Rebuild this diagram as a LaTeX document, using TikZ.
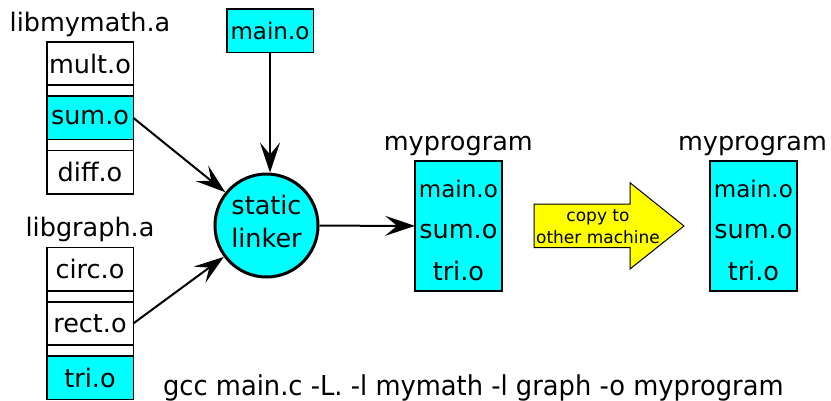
\documentclass[tikz,border=0pt]{standalone}
\usepackage{fontspec}
\setmainfont{DejaVu Sans}
\newfontfamily\cmdfont[FakeStretch=0.94]{DejaVu Sans}
\usepackage{tikz}
\usetikzlibrary{arrows.meta, positioning}

\definecolor{objcyan}{RGB}{0,255,255}
\definecolor{copyyellow}{RGB}{255,255,0}

\begin{document}
\begin{tikzpicture}[
      x=1pt, y=-1pt,
      every node/.style={inner sep=0pt, outer sep=0pt},
      big/.style={font=\fontsize{25.5}{41.5}\selectfont},
      objbox/.style={draw, line width=1.5pt, minimum width=86.5pt, minimum height=43.3pt, big},
      gapbox/.style={draw, line width=1.5pt, minimum width=86.5pt, minimum height=11pt},
      picked/.style={fill=objcyan},
      title/.style={big, anchor=base},
      progbox/.style={draw, line width=1.5pt, fill=objcyan, minimum width=86.7pt, minimum height=130pt,
                      align=center, big, text height=108pt, text depth=0pt},
      linker/.style={circle, draw, line width=3pt, outer sep=1.5pt, fill=objcyan, minimum size=103pt,
                     align=center, font=\fontsize{25.5}{33}\selectfont, text depth=9pt},
      link/.style={line width=2pt, -{Stealth[length=30pt, width=20pt, inset=12pt]}}
    ]
      \useasboundingbox (0,0) rectangle (831,400);

      % libmymath.a
      \node[title] (mathlib) at (90,31.7) {libmymath.a};
      \node[objbox] (mult) at (90,63.5) {mult.o};
      \node[gapbox, below=0pt of mult] (mathgapa) {};
      \node[objbox, picked, below=0pt of mathgapa] (sum) {sum.o};
      \node[gapbox, below=0pt of sum] (mathgapb) {};
      \node[objbox, below=0pt of mathgapb] (diff) {diff.o};

      % libgraph.a
      \node[title] (graphlib) at (90,236.7) {libgraph.a};
      \node[objbox] (circ) at (90,269.2) {circ.o};
      \node[gapbox, below=0pt of circ] (graphgapa) {};
      \node[objbox, below=0pt of graphgapa] (rect) {rect.o};
      \node[gapbox, below=0pt of rect] (graphgapb) {};
      \node[objbox, picked, below=0pt of graphgapb] (tri) {tri.o};

      \node[objbox, picked, font=\fontsize{23}{28}\selectfont] (main) at (270,30.7) {main.o};
      \node[linker] (linker) at (266.5,225.5) {static\\linker};

      % executables
      \node[title] (builttitle) at (458.3,150) {myprogram};
      \node[progbox] (built) at (458.4,226) {{\fontsize{23}{41.5}\selectfont main.o}\\sum.o\\tri.o};
      \node[title] (copiedtitle) at (752.5,150) {myprogram};
      \node[progbox] (copied) at (753.4,226) {{\fontsize{23}{41.5}\selectfont main.o}\\sum.o\\tri.o};

      \draw[link] (sum.east) -- (linker);
      \draw[link] (rect.east) -- (linker);
      \draw[link] (main.south) -- (main.south |- linker.north);
      \draw[link] (linker) -- (built);

      \draw[line width=1pt, fill=copyyellow] (534,204) -- (630,204) -- (630,182.7) -- (684,226)
        -- (630,269) -- (630,247.7) -- (534,247.7) -- cycle;
      \node[align=center, font=\fontsize{17}{21.6}\selectfont] (copylbl) at (598,226.4) {copy to\\other machine};

      \node[anchor=base, font=\cmdfont\fontsize{27.4}{33}\selectfont] (cmd) at (473.3,395)
        {gcc main.c -L. -l mymath -l graph -o myprogram};
    \end{tikzpicture}
\end{document}
